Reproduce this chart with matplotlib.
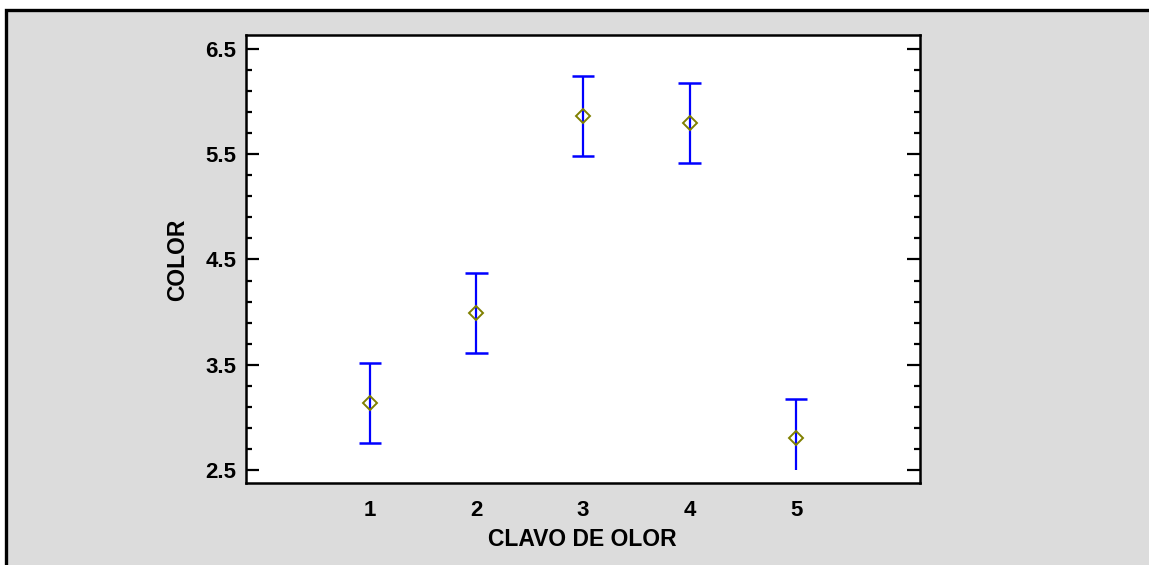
import matplotlib
matplotlib.use("Agg")
import matplotlib.pyplot as plt
from matplotlib.patches import Rectangle
from matplotlib.ticker import MultipleLocator

plt.rcParams['font.family'] = ['Liberation Sans', 'DejaVu Sans']

# Group means of COLOR for each level of CLAVO DE OLOR, with interval half-widths
groups = [1, 2, 3, 4, 5]
means = [3.14, 3.99, 5.86, 5.80, 2.80]
half_width = [0.38, 0.38, 0.38, 0.38, 0.37]
y_floor = 2.5  # intervals are cut at the lowest labelled value

y_ticks = [2.5, 3.5, 4.5, 5.5, 6.5]
x_label = "CLAVO DE OLOR"
y_label = "COLOR"

W, H = 1149, 565
fig = plt.figure(figsize=(W / 100, H / 100), dpi=100, facecolor='white')

# Grey panel with a black frame behind the plot
panel = Rectangle((6 / W, -0.1), 1.2, (H - 10) / H + 0.1, transform=fig.transFigure,
                  facecolor='#dcdcdc', edgecolor='black', linewidth=2.4, zorder=-10)
fig.patches.append(panel)

ax = fig.add_axes([246 / W, (H - 483) / H, (920 - 246) / W, (483 - 35) / H])
ax.set_facecolor('white')

for g, m, hw in zip(groups, means, half_width):
    lo = max(m - hw, y_floor)
    hi = m + hw
    ax.vlines(g, lo, hi, colors='#0000ff', linewidth=1.6, zorder=2)
    ax.hlines(hi, g - 0.105, g + 0.105, colors='#0000ff', linewidth=1.8, zorder=2)
    if m - hw >= y_floor:
        ax.hlines(lo, g - 0.105, g + 0.105, colors='#0000ff', linewidth=1.8, zorder=2)

ax.plot(groups, means, linestyle='none', marker='D', markersize=7,
        markerfacecolor='none', markeredgecolor='#808000', markeredgewidth=1.4, zorder=3)

ax.set_xlim(-0.16, 6.16)
ax.set_ylim(2.376, 6.633)
ax.set_xticks(groups)
ax.set_xticklabels([str(g) for g in groups])
ax.set_yticks(y_ticks)
ax.set_yticklabels([f"{v:.1f}" for v in y_ticks])
# minor ticks every 0.2, aligned with the labelled half-values
ax.yaxis.set_minor_locator(MultipleLocator(0.2, offset=0.1))

for sp in ax.spines.values():
    sp.set_linewidth(1.8)
    sp.set_color('black')

ax.tick_params(axis='y', which='major', direction='in', length=9.4, width=1.6,
               left=True, right=True, labelsize=16, pad=7)
ax.tick_params(axis='y', which='minor', direction='in', length=4.5, width=1.6,
               left=True, right=True)
ax.tick_params(axis='x', which='both', length=0, labelsize=16, pad=12)
for lbl in ax.get_xticklabels() + ax.get_yticklabels():
    lbl.set_fontweight('bold')

fig.text(582 / W, 1 - 540 / H, x_label, ha='center', va='center',
         fontsize=16.5, fontweight='bold')
fig.text(178 / W, 1 - 260 / H, y_label, ha='center', va='center', rotation=90,
         fontsize=16.5, fontweight='bold')

fig.savefig('out.png', dpi=100, facecolor='white')
